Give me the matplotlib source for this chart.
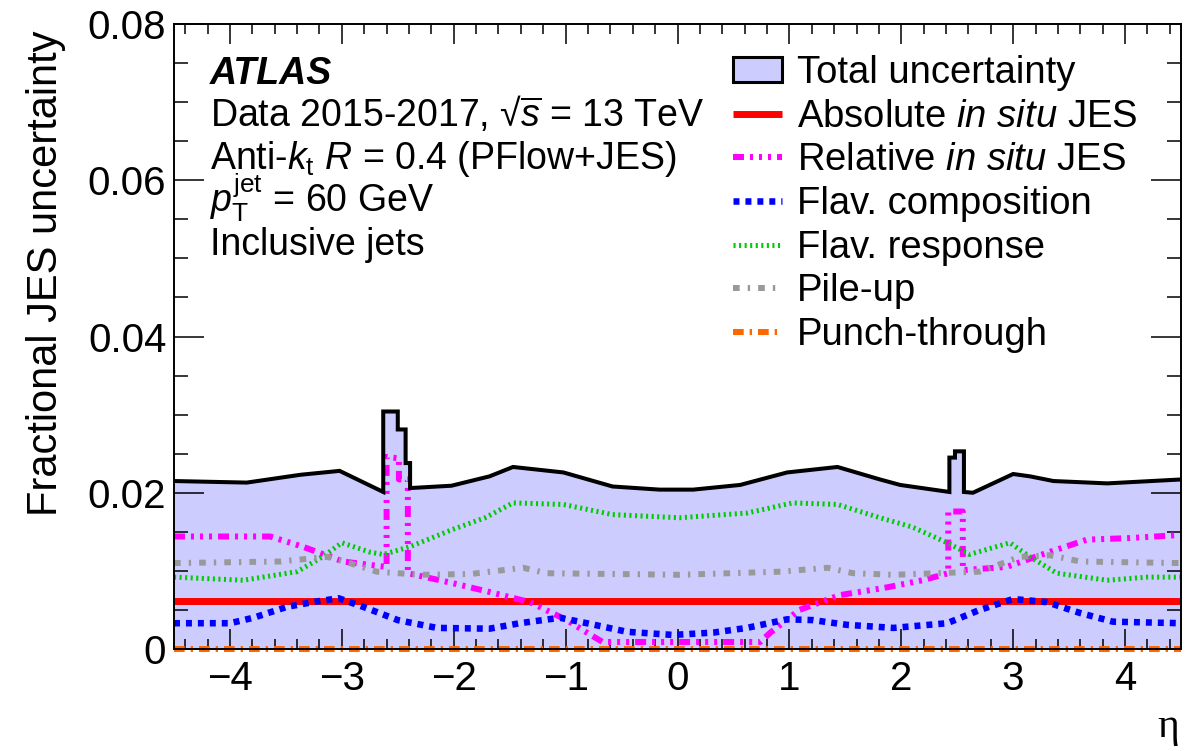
import matplotlib
matplotlib.use("Agg")
import matplotlib.pyplot as plt
from matplotlib.patches import Patch
from matplotlib.ticker import MultipleLocator, FuncFormatter

plt.rcParams["font.family"] = ["Liberation Sans", "DejaVu Sans"]
plt.rcParams["mathtext.fontset"] = "custom"
plt.rcParams["mathtext.rm"] = "Liberation Sans"
plt.rcParams["mathtext.it"] = "Liberation Sans:italic"
plt.rcParams["mathtext.bf"] = "Liberation Sans:bold"
plt.rcParams["lines.scale_dashes"] = False

# ---- uncertainty components vs. jet eta (pT = 60 GeV) ----
eta_total = [-4.5, -3.85, -3.37, -3.02, -2.63, -2.63, -2.50, -2.50, -2.43, -2.43,
             -2.39, -2.39, -2.02, -1.68, -1.47, -1.02, -0.58, -0.16, 0.14, 0.56,
             0.98, 1.43, 1.81, 1.99, 2.43, 2.43, 2.48, 2.48, 2.56, 2.56, 2.64,
             3.00, 3.15, 3.36, 3.84, 4.5]
total = [0.0215, 0.0213, 0.0223, 0.0228, 0.0201, 0.0304, 0.0304, 0.0281, 0.0281, 0.0238,
         0.0238, 0.0206, 0.0209, 0.0221, 0.0233, 0.0226, 0.0208, 0.0204, 0.0204, 0.0210,
         0.0226, 0.0233, 0.0217, 0.0210, 0.0201, 0.0245, 0.0245, 0.0253, 0.0253, 0.0201, 0.0200,
         0.0224, 0.0221, 0.0215, 0.0212, 0.0217]

eta_abs = [-4.5, 4.5]
absolute = [0.0061, 0.0061]

eta_rel = [-4.5, -3.64, -3.35, -2.99, -2.60, -2.60, -2.49, -2.49, -2.41, -2.41,
           -2.03, -1.68, -1.32, -0.99, -0.81, -0.67, 0.74, 0.83, 1.09, 1.45,
           1.84, 2.19, 2.42, 2.42, 2.55, 2.55, 2.94, 3.30, 3.66, 4.04, 4.5]
relative = [0.0144, 0.0144, 0.0131, 0.0112, 0.0105, 0.0246, 0.0244, 0.0217, 0.0217, 0.0097,
            0.0085, 0.0073, 0.0060, 0.0037, 0.0021, 0.0009, 0.0009, 0.0021, 0.0050, 0.0069,
            0.0078, 0.0088, 0.0097, 0.0176, 0.0176, 0.0101, 0.0105, 0.0123, 0.0140, 0.0142, 0.0146]

eta_comp = [-4.5, -4.0, -3.79, -3.49, -3.26, -3.03, -2.81, -2.50, -2.15, -1.68,
            -1.41, -1.05, -0.81, -0.45, -0.04, 0.32, 0.62, 0.98, 1.21, 1.51,
            1.93, 2.41, 2.70, 3.00, 3.30, 3.60, 3.89, 4.5]
flav_comp = [0.0033, 0.0033, 0.0040, 0.0054, 0.0060, 0.0065, 0.0054, 0.0037, 0.0027, 0.0026,
             0.0033, 0.0040, 0.0033, 0.0022, 0.0018, 0.0021, 0.0027, 0.0038, 0.0037, 0.0031,
             0.0027, 0.0033, 0.0050, 0.0064, 0.0060, 0.0046, 0.0035, 0.0033]

eta_resp = [-4.5, -3.88, -3.40, -3.17, -3.00, -2.75, -2.63, -2.39, -2.01, -1.72,
            -1.47, -1.02, -0.58, 0.02, 0.62, 1.03, 1.43, 1.81, 2.10, 2.41,
            2.61, 2.97, 3.15, 3.39, 3.84, 4.20, 4.5]
flav_resp = [0.0092, 0.0088, 0.0099, 0.0118, 0.0136, 0.0124, 0.0121, 0.0131, 0.0153, 0.0168,
             0.0187, 0.0185, 0.0172, 0.0168, 0.0174, 0.0187, 0.0185, 0.0168, 0.0156, 0.0136,
             0.0121, 0.0136, 0.0118, 0.0097, 0.0088, 0.0092, 0.0092]

eta_pu = [-4.5, -3.55, -3.13, -2.93, -2.69, -2.30, -1.85, -1.38, -1.17, 0.02,
          0.92, 1.34, 1.57, 1.93, 2.70, 3.06, 3.33, 3.60, 4.5]
pileup = [0.0110, 0.0112, 0.0118, 0.0110, 0.0099, 0.0095, 0.0096, 0.0104, 0.0097, 0.0095,
          0.0099, 0.0104, 0.0097, 0.0095, 0.0099, 0.0118, 0.0120, 0.0112, 0.0110]

eta_pt = [-4.5, 4.5]
punch = [0.0, 0.0]

labels = ["Total uncertainty", r"Absolute $\mathit{in\ situ}$ JES",
          r"Relative $\mathit{in\ situ}$ JES", "Flav. composition",
          "Flav. response", "Pile-up", "Punch-through"]

fill_col = "#ccccff"

fig = plt.figure(figsize=(11.94, 7.51), dpi=100)
W, H = 1194, 751
ax = fig.add_axes([174 / W, 1 - 649 / H, (1181 - 174) / W, (649 - 24) / H])

ax.fill_between(eta_total, 0, total, facecolor=fill_col, edgecolor="none", zorder=1)
l_abs, = ax.plot(eta_abs, absolute, color="#ff0000", lw=5.0, solid_capstyle="butt", zorder=2)
l_rel, = ax.plot(eta_rel, relative, color="#ff00ff", lw=4.3,
                 linestyle=(0, (7.9, 4.3, 2.2, 4.3, 2.2, 4.3, 2.2, 4.3)), zorder=3)
l_comp, = ax.plot(eta_comp, flav_comp, color="#0000ff", lw=4.7,
                  linestyle=(0, (4.3, 4.3)), zorder=4)
l_resp, = ax.plot(eta_resp, flav_resp, color="#00cc00", lw=3.6,
                  linestyle=(0, (1.5, 2.5)), zorder=3)
l_pu, = ax.plot(eta_pu, pileup, color="#999999", lw=4.3,
                linestyle=(0, (4.8, 5.8, 1.7, 5.8)), zorder=3)
l_pt, = ax.plot(eta_pt, punch, color="#ff6600", lw=4.3,
                linestyle=(0, (7.7, 4.3, 1.7, 4.3)), zorder=3, clip_on=False)
ax.plot(eta_total, total, color="black", lw=2.9, solid_joinstyle="miter", zorder=5)

ax.set_xlim(-4.5, 4.5)
ax.set_ylim(0, 0.08)

ax.xaxis.set_major_locator(MultipleLocator(1))
ax.xaxis.set_minor_locator(MultipleLocator(0.2))
ax.yaxis.set_major_locator(MultipleLocator(0.02))
ax.yaxis.set_minor_locator(MultipleLocator(0.005))
ax.yaxis.set_major_formatter(FuncFormatter(lambda v, p: "0" if abs(v) < 1e-9 else f"{v:.2f}"))

ax.tick_params(which="both", direction="in", top=True, right=True, width=1.1, labelsize=29)
ax.tick_params(axis="x", which="major", length=14.4, pad=8)
ax.tick_params(axis="x", which="minor", length=7.2)
ax.tick_params(axis="y", which="major", length=21.6, pad=5.5)
ax.tick_params(axis="y", which="minor", length=10)
for s in ax.spines.values():
    s.set_linewidth(1.4)
    s.set_zorder(6)

ax.set_ylabel("Fractional JES uncertainty", fontsize=30, loc="top")
ax.yaxis.set_label_coords((66 - 174) / 1007, (649 - 30) / 625)
ax.set_xlabel("η", fontsize=30, loc="right", family=["Liberation Serif", "DejaVu Serif"])
ax.xaxis.set_label_coords((1179 - 174) / 1007, (649 - 708) / 625)

# annotations
tx = 210 / W
fig.text(tx, 1 - 84 / H, "ATLAS", fontsize=27, fontweight="bold", style="italic", va="baseline")
fig.text(tx, 1 - 126 / H, r"Data 2015-2017, √$\overline{s}$ = 13 TeV", fontsize=27, va="baseline")
fig.text(tx, 1 - 169 / H, r"Anti-$k_{\mathrm{t}}$ $R$ = 0.4 (PFlow+JES)", fontsize=27, va="baseline")
fig.text(tx, 1 - 212 / H, r"$p_{\mathrm{T}}^{\mathrm{jet}}$ = 60 GeV", fontsize=27, va="baseline")
fig.text(tx, 1 - 255 / H, "Inclusive jets", fontsize=27, va="baseline")

total_handle = Patch(facecolor=fill_col, edgecolor="black", linewidth=2.2)
handles = [total_handle, l_abs, l_rel, l_comp, l_resp, l_pu, l_pt]
leg = fig.legend(handles, labels, loc="upper left", bbox_to_anchor=(733 / W, 1 - 55 / H),
                 frameon=False, fontsize=27.5, handlelength=1.28, handleheight=0.62,
                 handletextpad=0.4, labelspacing=0.2, borderpad=0, borderaxespad=0)

fig.savefig("out.png", dpi=100)
